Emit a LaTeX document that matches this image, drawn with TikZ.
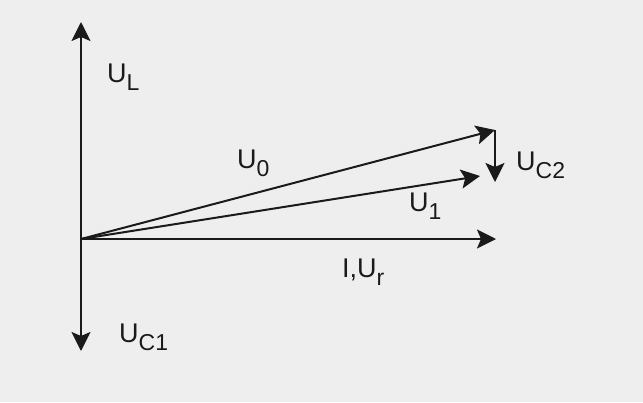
\documentclass[tikz,border=0pt]{standalone}
\usepackage{fontspec}
\setmainfont{Liberation Sans}
\usetikzlibrary{arrows.meta}
\definecolor{bgcol}{RGB}{238,238,238}
\definecolor{inkcol}{RGB}{26,26,26}
\newcommand{\subtxt}[1]{\raisebox{-8pt}{\fontsize{23}{23}\selectfont #1}}
\tikzset{
  vec/.style={line width=2pt, draw=inkcol, -{Stealth[length=19pt,width=19pt,inset=4pt]}},
  lbl/.style={anchor=base west, inner sep=0pt, text=inkcol, font=\fontsize{27}{27}\selectfont}
}
\begin{document}
\begin{tikzpicture}[x=1pt,y=-1pt]
\fill[bgcol] (0,0) rectangle (643,402);
\useasboundingbox (0,0) rectangle (643,402);
\coordinate (O) at (81,239);
\coordinate (UL) at (81,22);
\coordinate (UC1) at (81,351);
\coordinate (I) at (496,239);
\coordinate (U0) at (495,130);
\coordinate (UC2) at (495,182);
\coordinate (U1) at (480,176);
\draw[vec] (O) -- (UL);
\draw[vec] (O) -- (UC1);
\draw[vec] (O) -- (I);
\draw[vec] (O) -- (U0);
\draw[vec] (O) -- (U1);
\draw[vec] (U0) -- (UC2);
\node[lbl] (lUL) at (107,82) {U\subtxt{L}};
\node[lbl] (lU0) at (237,168) {U\subtxt{0}};
\node[lbl] (lUC2) at (516,170) {U\subtxt{C2}};
\node[lbl] (lU1) at (409,211) {U\subtxt{1}};
\node[lbl] (lI) at (342,277) {I,U\subtxt{r}};
\node[lbl] (lUC1) at (119,342) {U\subtxt{C1}};
\end{tikzpicture}
\end{document}
